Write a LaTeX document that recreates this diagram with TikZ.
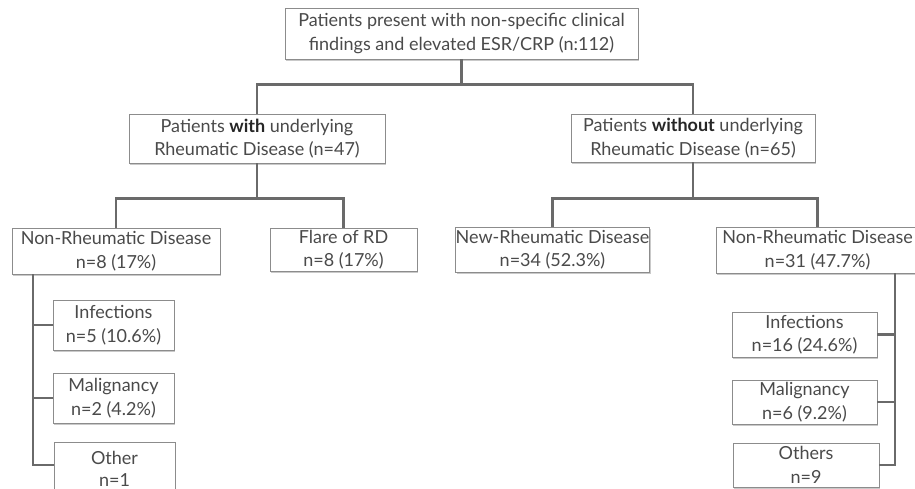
\documentclass[tikz,border=0pt]{standalone}
\usepackage{fontspec}
\setmainfont{Lato}
\usetikzlibrary{shadows,calc}
\definecolor{txt}{HTML}{4A4A4A}
\definecolor{ln}{HTML}{6A6A6A}
\definecolor{bd}{HTML}{8C8C8C}
\begin{document}
\begin{tikzpicture}[x=1pt,y=-1pt,
  box/.style={draw=bd,line width=0.8pt,fill=white,inner sep=0pt,align=center,
    text=txt,font=\fontsize{18}{23.5}\selectfont,
    drop shadow={shadow xshift=1.2pt,shadow yshift=-1.6pt,opacity=0.35,fill=black!60}},
  conn/.style={draw=ln,line width=2.8pt,line cap=butt},
]
\fill[white] (0,0) rectangle (915,489);
\clip (0,0) rectangle (915,489);
\useasboundingbox (0,0) rectangle (915,489);

\node[box,minimum width=353pt,minimum height=51pt] (top) at (461.5,33.5)
  {Patients present with non-specific clinical\\findings and elevated ESR/CRP (n:112)};
\node[box,minimum width=256pt,minimum height=49pt] (with) at (257,138.5)
  {Patients \textbf{\color{black!85}with} underlying\\Rheumatic Disease (n=47)};
\node[box,minimum width=244pt,minimum height=48pt] (without) at (693,138)
  {Patients \textbf{\color{black!85}without} underlying\\Rheumatic Disease (n=65)};
\node[box,minimum width=208pt,minimum height=46pt] (nrL) at (116,251)
  {Non-Rheumatic Disease\\n=8 (17\%)};
\node[box,minimum width=147pt,minimum height=43pt] (flare) at (343.5,249.5)
  {Flare of RD\\n=8 (17\%)};
\node[box,minimum width=193pt,minimum height=45pt] (newR) at (552.5,249.5)
  {New-Rheumatic Disease\\n=34 (52.3\%)};
\node[box,minimum width=203pt,minimum height=46pt] (nrR) at (817.5,250)
  {Non-Rheumatic Disease\\n=31 (47.7\%)};
\node[box,minimum width=121pt,minimum height=50pt] (infL) at (113.5,325)
  {Infections\\n=5 (10.6\%)};
\node[box,minimum width=121pt,minimum height=50pt] (malL) at (113.5,398)
  {Malignancy\\n=2 (4.2\%)};
\node[box,minimum width=121pt,minimum height=54pt,text depth=0pt] (othL) at (114.5,469)
  {Other\\[-1.5pt]n=1};
\node[box,minimum width=145pt,minimum height=45pt] (infR) at (804.5,334.5)
  {Infections\\n=16 (24.6\%)};
\node[box,minimum width=145pt,minimum height=44pt] (malR) at (804.5,402)
  {Malignancy\\n=6 (9.2\%)};
\node[box,minimum width=146pt,minimum height=44pt] (othR) at (806,465)
  {Others\\n=9};

% level 1
\coordinate (j1) at ($(top.south)+(0,25)$);
\draw[conn] (top.south) -- (j1);
\draw[conn] (with.north) |- (j1) -| (without.north);
% level 2 left
\coordinate (j2) at ($(with.south)+(0,35)$);
\draw[conn] (with.south) -- (j2);
\draw[conn] (nrL.north) |- (j2) -| (flare.north);
% level 2 right
\coordinate (j3) at ($(without.south)+(0,36)$);
\draw[conn] (without.south) -- (j3);
\draw[conn] (newR.north) |- (j3) -| (nrR.north);
% left spine
\coordinate (sL) at (33,274);
\coordinate (sLe) at (33,465);
\draw[conn] (sL) -- (sLe) -- (sLe -| othL.west);
\draw[conn] (sL |- infL.west) -- (infL.west);
\draw[conn] (sL |- malL.west) -- (malL.west);
% right spine
\coordinate (sR) at (895,273);
\coordinate (sRe) at (895,465);
\draw[conn] (sR) -- (sRe) -- (othR.east);
\draw[conn] (sR |- infR.east) -- (infR.east);
\draw[conn] (sR |- malR.east) -- (malR.east);
\end{tikzpicture}
\end{document}
